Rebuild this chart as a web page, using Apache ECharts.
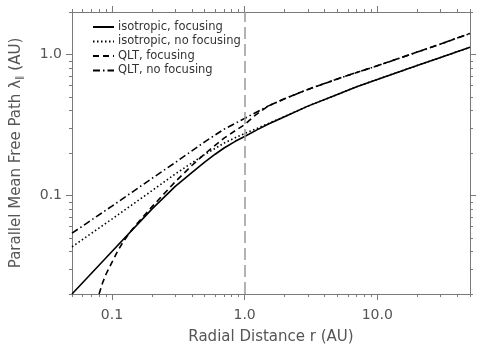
<!DOCTYPE html>
<html>
<head>
<meta charset="utf-8">
<script src="https://cdn.jsdelivr.net/npm/echarts@6/dist/echarts.min.js"></script>
<style>
  html, body { margin: 0; padding: 0; background: #fff; }
  #main { width: 500px; height: 352px; }
</style>
</head>
<body>
<div id="main"></div>
<script>
// radial distance r (AU) and mean free path (AU)
var rSolid   = [0.05, 0.1, 0.2, 0.3, 0.4, 0.5, 0.6, 0.7, 0.85, 1, 1.25, 1.5, 2, 3, 5, 7, 10, 20, 30, 50];
var lamSolid = [0.020, 0.040, 0.080, 0.116, 0.145, 0.172, 0.196, 0.217, 0.242, 0.262, 0.293, 0.320, 0.362, 0.430, 0.520, 0.590, 0.665, 0.835, 0.952, 1.125];

var rDotted   = [0.05, 0.1, 0.2, 0.3, 0.4, 0.5, 0.7, 0.85, 1, 1.25, 1.5, 2, 3, 5, 7, 10, 20, 30, 50];
var lamDotted = [0.0432, 0.068, 0.108, 0.142, 0.170, 0.195, 0.235, 0.257, 0.275, 0.300, 0.323, 0.363, 0.430, 0.520, 0.590, 0.665, 0.835, 0.952, 1.125];

var rDashed   = [0.08, 0.085, 0.09, 0.1, 0.11, 0.12, 0.135, 0.15, 0.2, 0.25, 0.3, 0.4, 0.5, 0.7, 0.85, 1, 1.2, 1.5, 2, 3, 5, 7, 10, 20, 30, 50];
var lamDashed = [0.020, 0.0240, 0.0275, 0.0335, 0.040, 0.046, 0.054, 0.061, 0.083, 0.104, 0.125, 0.163, 0.197, 0.255, 0.288, 0.318, 0.370, 0.430, 0.485, 0.565, 0.670, 0.745, 0.830, 1.040, 1.185, 1.410];

var rDashDot   = [0.05, 0.1, 0.2, 0.3, 0.5, 0.7, 1, 1.5, 2, 3, 5, 7, 10, 20, 30, 50];
var lamDashDot = [0.054, 0.084, 0.132, 0.171, 0.240, 0.295, 0.352, 0.430, 0.485, 0.565, 0.670, 0.745, 0.830, 1.040, 1.185, 1.410];

var xMajor = [0.1, 1, 10];
var xMinor = [0.05, 0.06, 0.07, 0.08, 0.09, 0.2, 0.3, 0.4, 0.5, 0.6, 0.7, 0.8, 0.9, 2, 3, 4, 5, 6, 7, 8, 9, 20, 30, 40, 50];
var yMajor = [0.1, 1];
var yMinor = [0.02, 0.03, 0.04, 0.05, 0.06, 0.07, 0.08, 0.09, 0.2, 0.3, 0.4, 0.5, 0.6, 0.7, 0.8, 0.9, 2];

var names = ['isotropic, focusing', 'isotropic, no focusing', 'QLT, focusing', 'QLT, no focusing'];

function pairs(xs, ys) {
  return xs.map(function (x, i) { return [x, ys[i]]; });
}
function fmt(v) {
  return v >= 1 ? v.toFixed(1) : String(v);
}

var axisGray = '#7a7a7a';
var font = 'DejaVu Sans';

function makeAxis(kind, pos, ticks, len, labels, extra) {
  var isX = kind === 'x';
  var ax = {
    type: 'log',
    logBase: 10,
    position: pos,
    min: isX ? 0.05 : 0.02,
    max: isX ? 50 : 2,
    splitLine: { show: false },
    axisLine: { show: true, lineStyle: { color: axisGray, width: 1 } },
    axisTick: { show: true, inside: false, length: len, customValues: ticks,
                lineStyle: { color: axisGray, width: 1 } },
    axisLabel: labels ? {
      show: true, customValues: labels, formatter: fmt,
      color: '#555', fontFamily: font, fontSize: 14,
      margin: isX ? 14 : 10
    } : { show: false }
  };
  for (var k in extra) ax[k] = extra[k];
  return ax;
}

var chart = echarts.init(document.getElementById('main'));

function series(name, data, type) {
  return {
    name: name, type: 'line', data: data,
    symbol: 'none', smooth: false, xAxisIndex: 0, yAxisIndex: 0,
    lineStyle: { color: '#000', width: 1.6, type: type },
    itemStyle: { color: '#000' }
  };
}

var sSolid = series(names[0], pairs(rSolid, lamSolid), 'solid');
sSolid.markLine = {
  silent: true, symbol: 'none', label: { show: false },
  lineStyle: { color: '#999', width: 1.5, type: [12, 5] },
  data: [{ xAxis: 1 }]
};

chart.setOption({
  animation: false,
  backgroundColor: '#fff',
  grid: { left: 72, right: 30, top: 12, bottom: 58, containLabel: false, outerBoundsMode: 'none' },
  legend: {
    orient: 'vertical', left: 92, top: 21, padding: 0,
    itemWidth: 21, itemHeight: 10, itemGap: 2.5,
    itemStyle: { opacity: 0 },
    textStyle: { fontFamily: font, fontSize: 11.5, color: '#333', padding: [0, 0, 0, -1] },
    data: names
  },
  xAxis: [
    makeAxis('x', 'bottom', xMajor, 6, xMajor, {
      name: 'Radial Distance r (AU)', nameLocation: 'middle', nameGap: 36,
      nameTextStyle: { fontFamily: font, fontSize: 15, color: '#555' }
    }),
    makeAxis('x', 'bottom', xMinor, 3, null, {}),
    makeAxis('x', 'top', xMajor, 6, null, {}),
    makeAxis('x', 'top', xMinor, 3, null, {})
  ],
  yAxis: [
    makeAxis('y', 'left', yMajor, 6, yMajor, {
      name: 'Parallel Mean Free Path λ{s|∥} (AU)', nameLocation: 'middle', nameGap: 48,
      nameTextStyle: { fontFamily: font, fontSize: 15, color: '#555',
        rich: { s: { fontFamily: font, fontSize: 9, color: '#555', verticalAlign: 'bottom' } } }
    }),
    makeAxis('y', 'left', yMinor, 3, null, {}),
    makeAxis('y', 'right', yMajor, 6, null, {}),
    makeAxis('y', 'right', yMinor, 3, null, {})
  ],
  series: [
    sSolid,
    series(names[1], pairs(rDotted, lamDotted), [1.5, 2.5]),
    series(names[2], pairs(rDashed, lamDashed), [6, 4]),
    series(names[3], pairs(rDashDot, lamDashDot), [7, 3, 1.5, 3])
  ]
});
</script>
</body>
</html>
